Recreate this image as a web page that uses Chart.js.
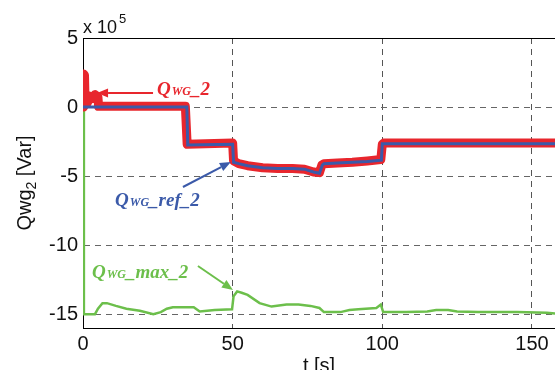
<!DOCTYPE html>
<html>
<head>
<meta charset="utf-8">
<script src="https://cdn.jsdelivr.net/npm/chart.js"></script>
<style>
  html, body { margin: 0; padding: 0; background: #fff; }
  canvas { display: block; }
</style>
</head>
<body>
<canvas id="chart" width="555" height="370"></canvas>
<script>
// ----------------------------
// Data (Q in units of 1e5 Var, t in s)
// ----------------------------
const tQwg = [0, 0.2, 0.5, 0.7, 1.0, 1.5, 2.0, 3.0, 4.0, 5.0, 5.2, 34.2, 34.8, 50.0, 50.3, 52, 55, 60, 65, 70, 74, 77, 79, 79.8, 80.5, 85, 90, 95, 99.5, 100.0, 100.5, 158];
const qQwg = [0, 2.4, 2.3, 0.2, 0.9, 0.3, 0.8, 0.6, 0.9, 0.7, 0.05, 0.05, -2.7, -2.6, -3.9, -4.1, -4.25, -4.4, -4.45, -4.45, -4.5, -4.7, -4.75, -4.2, -4.1, -4.05, -4.0, -3.9, -3.8, -2.7, -2.6, -2.6];

const tRef = [0, 34.7, 35.0, 50.0, 50.3, 52, 55, 60, 65, 70, 74, 77, 79, 80.0, 80.5, 85, 90, 95, 99.7, 100.0, 158];
const qRef = [0, 0, -2.75, -2.7, -4.0, -4.1, -4.25, -4.4, -4.45, -4.45, -4.5, -4.7, -4.8, -4.2, -4.1, -4.05, -4.0, -3.95, -3.85, -2.65, -2.65];

const tMax = [0.3, 0.3, 4, 5, 6.5, 8, 11, 14.5, 19, 23.5, 26, 28, 30, 37, 39, 44, 49.8, 50.3, 51.5, 53, 55, 59, 63, 68, 72, 76, 79, 80.5, 86, 89, 92, 98, 99.5, 100.3, 108, 115, 118, 122, 125, 132, 145, 155, 158];
const qMax = [0, -15, -15, -14.6, -14.2, -14.2, -14.4, -14.6, -14.75, -15.0, -14.85, -14.6, -14.5, -14.5, -14.8, -14.7, -14.65, -13.7, -13.35, -13.45, -13.6, -14.2, -14.45, -14.3, -14.3, -14.4, -14.55, -14.85, -14.85, -14.7, -14.65, -14.55, -14.3, -14.85, -14.85, -14.8, -14.7, -14.7, -14.8, -14.85, -14.85, -14.9, -14.95];

const xTicks = [0, 50, 100, 150];
const yTicks = [5, 0, -5, -10, -15];

// annotation labels: [text parts], anchor t, anchor q, arrow from (t,q) to (t,q)
const labelParts = [["Q", "WG", "_2"], ["Q", "WG", "_ref_2"], ["Q", "WG", "_max_2"]];
const labelColors = ["#e8262d", "#3b5aa9", "#6cbf4b"];
const labelAt = [[24.7, 0.87], [10.7, -7.17], [3.0, -12.38]];
const arrowFrom = [[23.4, 1.02], [33.4, -5.79], [38.4, -11.51]];
const arrowTo = [[4.7, 1.02], [49.4, -3.98], [50.1, -13.25]];

const toPoints = (ts, qs) => ts.map((t, i) => ({ x: t, y: qs[i] }));

// ----------------------------
// Extra drawing: frame top, titles, exponent, labels
// ----------------------------
const extras = {
  id: "extras",
  afterDraw(chart) {
    const { ctx, chartArea: a, scales } = chart;
    const xs = scales.x, ys = scales.y;
    ctx.save();

    // top frame line
    ctx.strokeStyle = "#000";
    ctx.lineWidth = 1;
    ctx.beginPath();
    ctx.moveTo(a.left, a.top + 0.5);
    ctx.lineTo(a.right, a.top + 0.5);
    ctx.stroke();

    // exponent
    ctx.fillStyle = "#111";
    ctx.textBaseline = "alphabetic";
    ctx.textAlign = "left";
    ctx.font = "18px 'Liberation Sans', Arial, sans-serif";
    ctx.fillText("x 10", a.left, 33);
    const w10 = ctx.measureText("x 10").width;
    ctx.font = "13px 'Liberation Sans', Arial, sans-serif";
    ctx.fillText("5", a.left + w10 + 2, 23);

    // x title
    ctx.font = "20px 'Liberation Sans', Arial, sans-serif";
    ctx.textAlign = "center";
    ctx.fillText("t [s]", (a.left + a.right) / 2, 372);

    // y title with subscript
    ctx.save();
    ctx.translate(31, (a.top + a.bottom) / 2);
    ctx.rotate(-Math.PI / 2);
    ctx.textAlign = "left";
    const big = "20px 'Liberation Sans', Arial, sans-serif";
    const small = "14px 'Liberation Sans', Arial, sans-serif";
    ctx.font = big; const w1 = ctx.measureText("Qwg").width;
    ctx.font = small; const w2 = ctx.measureText("2").width;
    ctx.font = big; const w3 = ctx.measureText(" [Var]").width;
    let x0 = -(w1 + w2 + w3) / 2;
    ctx.font = big; ctx.fillText("Qwg", x0, 0);
    ctx.font = small; ctx.fillText("2", x0 + w1, 5);
    ctx.font = big; ctx.fillText(" [Var]", x0 + w1 + w2, 0);
    ctx.restore();

    // annotation labels and arrows
    labelParts.forEach((parts, i) => {
      const col = labelColors[i];
      ctx.fillStyle = col;
      ctx.strokeStyle = col;
      let px = xs.getPixelForValue(labelAt[i][0]);
      const py = ys.getPixelForValue(labelAt[i][1]);
      ctx.textAlign = "left";
      parts.forEach((p, k) => {
        ctx.font = (k === 1 ? "bold italic 12px" : "bold italic 19px") + " 'Liberation Serif', 'Times New Roman', serif";
        ctx.fillText(p, px, py);
        px += ctx.measureText(p).width + (k === 0 ? 1 : 0);
      });

      const fx = xs.getPixelForValue(arrowFrom[i][0]), fy = ys.getPixelForValue(arrowFrom[i][1]);
      const tx = xs.getPixelForValue(arrowTo[i][0]), ty = ys.getPixelForValue(arrowTo[i][1]);
      const ang = Math.atan2(ty - fy, tx - fx);
      const headL = 11, headW = 4.5;
      const bx = tx - headL * Math.cos(ang), by = ty - headL * Math.sin(ang);
      ctx.lineWidth = 2;
      ctx.beginPath();
      ctx.moveTo(fx, fy);
      ctx.lineTo(bx, by);
      ctx.stroke();
      ctx.beginPath();
      ctx.moveTo(tx, ty);
      ctx.lineTo(bx + headW * Math.sin(ang), by - headW * Math.cos(ang));
      ctx.lineTo(bx - headW * Math.sin(ang), by + headW * Math.cos(ang));
      ctx.closePath();
      ctx.fill();
    });

    ctx.restore();
  }
};

const tickFont = { family: "'Liberation Sans', Arial, sans-serif", size: 20 };

new Chart(document.getElementById("chart"), {
  type: "line",
  data: {
    datasets: [
      { label: "Q_WG_max_2", data: toPoints(tMax, qMax), borderColor: "#6cbf4b", borderWidth: 2.5, order: 3 },
      { label: "Q_WG_2", data: toPoints(tQwg, qQwg), borderColor: "#e8262d", borderWidth: 9, borderJoinStyle: "round", borderCapStyle: "round", order: 2 },
      { label: "Q_WG_ref_2", data: toPoints(tRef, qRef), borderColor: "#3b5aa9", borderWidth: 3, order: 1 },
    ],
  },
  options: {
    responsive: false,
    animation: false,
    parsing: false,
    elements: { point: { radius: 0 }, line: { tension: 0, fill: false } },
    layout: { padding: { top: 38, left: 0, right: 0, bottom: 0 } },
    plugins: { legend: { display: false }, tooltip: { enabled: false } },
    scales: {
      x: {
        type: "linear",
        min: 0,
        max: 157.7,
        afterFit: (s) => { s.height = 42; },
        afterBuildTicks: (s) => { s.ticks = xTicks.map((v) => ({ value: v })); },
        ticks: { font: tickFont, color: "#111", padding: 4, maxRotation: 0 },
        grid: { color: "#555", lineWidth: 1, drawTicks: false },
        border: { display: true, color: "#000", width: 1, dash: [6, 5] },
      },
      y: {
        type: "linear",
        min: -16,
        max: 5,
        afterFit: (s) => { s.width = 83; },
        afterBuildTicks: (s) => { s.ticks = yTicks.map((v) => ({ value: v })); },
        ticks: { font: tickFont, color: "#111", padding: 5 },
        grid: { color: "#666", lineWidth: 1, drawTicks: false },
        border: { display: true, color: "#000", width: 1, dash: [6, 5] },
      },
    },
  },
  plugins: [extras],
});
</script>
</body>
</html>
